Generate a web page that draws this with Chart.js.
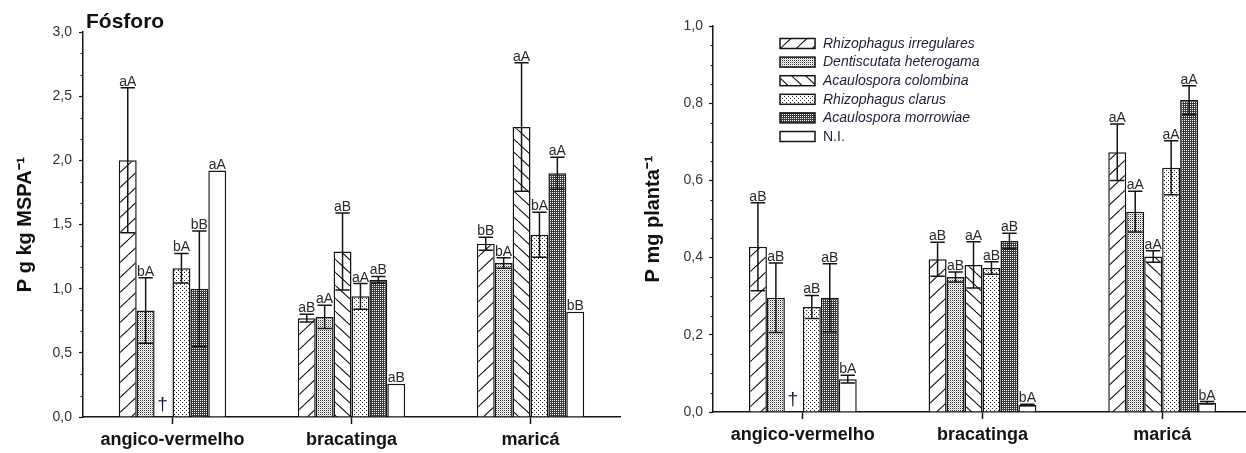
<!DOCTYPE html>
<html><head><meta charset="utf-8">
<script src="https://cdn.jsdelivr.net/npm/chart.js@4.4.1/dist/chart.umd.min.js"></script>
<style>
html,body{margin:0;padding:0;background:#fff;overflow:hidden;width:1246px;height:453px;}
#wrapL{position:absolute;left:0;top:0;width:640px;height:453px;}
#wrapR{position:absolute;left:640px;top:0;width:620px;height:453px;}
</style></head><body>
<div id="wrapL"><canvas id="cL" width="640" height="453"></canvas></div>
<div id="wrapR"><canvas id="cR" width="620" height="453"></canvas></div>
<script>
// ---------- DATA ----------
const categories = ['angico-vermelho', 'bracatinga', 'maricá'];
const seriesNames = ['Rhizophagus irregulares', 'Dentiscutata heterogama', 'Acaulospora colombina', 'Rhizophagus clarus', 'Acaulospora morrowiae', 'N.I.'];
const leftTitle = 'Fósforo';
const leftAxisTitle = 'P g kg MSPA⁻¹';
const rightAxisTitle = 'P mg planta⁻¹';
const leftTicks = [0, 0.5, 1.0, 1.5, 2.0, 2.5, 3.0];
const rightTicks = [0, 0.2, 0.4, 0.6, 0.8, 1.0];
const deadMark = '†';

// Left panel: P g kg MSPA-1
const leftRI = [2.00, 0.77, 1.35];
const leftDH = [0.83, 0.78, 1.20];
const leftAC = [null, 1.29, 2.26];
const leftRC = [1.16, 0.94, 1.42];
const leftAM = [1.00, 1.07, 1.90];
const leftNI = [1.92, 0.26, 0.82];
const leftErrRI = [0.565, 0.03, 0.05];
const leftErrDH = [0.255, 0.09, 0.04];
const leftErrAC = [null, 0.30, 0.50];
const leftErrRC = [0.115, 0.10, 0.175];
const leftErrAM = [0.45, 0.025, 0.125];
const leftErrNI = [0, 0, 0];
const leftLetRI = ['aA', 'aB', 'bB'];
const leftLetDH = ['bA', 'aA', 'bA'];
const leftLetAC = ['', 'aB', 'aA'];
const leftLetRC = ['bA', 'aA', 'bA'];
const leftLetAM = ['bB', 'aB', 'aA'];
const leftLetNI = ['aA', 'aB', 'bB'];

// Right panel: P mg planta-1
const rightRI = [0.428, 0.396, 0.673];
const rightDH = [0.296, 0.350, 0.519];
const rightAC = [null, 0.381, 0.403];
const rightRC = [0.272, 0.373, 0.633];
const rightAM = [0.296, 0.443, 0.808];
const rightNI = [0.085, 0.018, 0.024];
const rightErrRI = [0.114, 0.044, 0.073];
const rightErrDH = [0.09, 0.013, 0.053];
const rightErrAC = [null, 0.06, 0.015];
const rightErrRC = [0.03, 0.016, 0.07];
const rightErrAM = [0.088, 0.02, 0.037];
const rightErrNI = [0.01, 0.002, 0.003];
const rightLetRI = ['aB', 'aB', 'aA'];
const rightLetDH = ['aB', 'aB', 'aA'];
const rightLetAC = ['', 'aA', 'aA'];
const rightLetRC = ['aB', 'aB', 'aA'];
const rightLetAM = ['aB', 'aB', 'aA'];
const rightLetNI = ['bA', 'bA', 'bA'];

// ---------- STYLE ----------
const FONT = "'Liberation Sans', Arial, sans-serif";
const INK = '#151515';

function makePattern(kind) {
  const c = document.createElement('canvas');
  let ctx;
  if (kind === 'fwd' || kind === 'back') {
    const W = kind === 'fwd' ? 16 : 14, H = kind === 'fwd' ? 15 : 13;
    c.width = W; c.height = H; ctx = c.getContext('2d');
    ctx.fillStyle = '#fff'; ctx.fillRect(0, 0, W, H);
    ctx.strokeStyle = '#111'; ctx.lineWidth = 1.1;
    ctx.beginPath();
    for (const dx of [-W, 0, W]) {
      if (kind === 'fwd') { ctx.moveTo(dx, H); ctx.lineTo(dx + W, 0); }
      else { ctx.moveTo(dx, 0); ctx.lineTo(dx + W, H); }
    }
    ctx.stroke();
  } else if (kind === 'dh') {
    c.width = 2; c.height = 2; ctx = c.getContext('2d');
    ctx.fillStyle = '#fff'; ctx.fillRect(0, 0, 2, 2);
    ctx.fillStyle = '#333'; ctx.fillRect(0, 0, 1, 1);
    ctx.fillStyle = '#c4c4c4'; ctx.fillRect(1, 1, 1, 1);
  } else if (kind === 'rc') {
    c.width = 4; c.height = 4; ctx = c.getContext('2d');
    ctx.fillStyle = '#fff'; ctx.fillRect(0, 0, 4, 4);
    ctx.fillStyle = '#222'; ctx.fillRect(0, 0, 1, 1); ctx.fillRect(2, 2, 1, 1);
  } else if (kind === 'am') {
    c.width = 2; c.height = 2; ctx = c.getContext('2d');
    ctx.fillStyle = '#3a3a3a'; ctx.fillRect(0, 0, 2, 2);
    ctx.fillStyle = '#fff'; ctx.fillRect(0, 0, 1, 1);
  } else {
    c.width = 2; c.height = 2; ctx = c.getContext('2d');
    ctx.fillStyle = '#fff'; ctx.fillRect(0, 0, 2, 2);
  }
  return ctx.createPattern(c, 'repeat');
}
const fills = ['fwd', 'dh', 'back', 'rc', 'am', 'white'].map(makePattern);

function fmt(v) { return v.toFixed(1).replace('.', ','); }

function buildDatasets(vals, errs, lets) {
  return vals.map((v, i) => ({
    label: seriesNames[i],
    data: v,
    err: errs[i],
    letters: lets[i],
    backgroundColor: fills[i],
    borderColor: INK,
    borderWidth: 1.5,
    borderSkipped: 'bottom',
    categoryPercentage: 0.6,
    barPercentage: 1.0
  }));
}

// Error bars, letters, dagger, minor ticks
const annotPlugin = {
  id: 'annot',
  afterDatasetsDraw(chart, args, opts) {
    const ctx = chart.ctx;
    const y = chart.scales.y;
    ctx.save();
    chart.data.datasets.forEach((ds, di) => {
      const meta = chart.getDatasetMeta(di);
      meta.data.forEach((bar, i) => {
        const v = ds.data[i];
        const x = bar.x;
        const w = bar.width;
        if (v === null || v === undefined) {
          ctx.fillStyle = '#1c1c3a';
          ctx.font = '19px ' + FONT;
          ctx.textAlign = 'center';
          ctx.textBaseline = 'alphabetic';
          ctx.fillText(deadMark, x - 1, y.getPixelForValue(0) - 7);
          return;
        }
        const e = ds.err[i] || 0;
        let topPix = y.getPixelForValue(v);
        if (e > 0) {
          const yt = y.getPixelForValue(v + e);
          const yb = y.getPixelForValue(v - e);
          const cap = w * 0.4;
          ctx.strokeStyle = INK; ctx.lineWidth = 1.5;
          ctx.beginPath();
          ctx.moveTo(x, yt); ctx.lineTo(x, yb);
          ctx.moveTo(x - cap, yt); ctx.lineTo(x + cap, yt);
          ctx.moveTo(x - cap, yb); ctx.lineTo(x + cap, yb);
          ctx.stroke();
          topPix = yt;
        }
        const t = ds.letters[i];
        if (t) {
          ctx.fillStyle = '#2a2a2a';
          ctx.font = '14px ' + FONT;
          ctx.textAlign = 'center';
          ctx.textBaseline = 'alphabetic';
          ctx.fillText(t, x, topPix - 2);
        }
      });
    });
    ctx.restore();
  },
  afterDraw(chart, args, opts) {
    const ctx = chart.ctx;
    const y = chart.scales.y;
    const ax = y.right;
    ctx.save();
    ctx.strokeStyle = INK; ctx.lineWidth = 1.2;
    ctx.beginPath();
    for (let k = 0; k <= opts.nMinor; k++) {
      if (k % opts.every === 0) continue;
      const v = y.min + k * opts.minorStep;
      const py = Math.round(y.getPixelForValue(v)) + 0.5;
      ctx.moveTo(ax - 2.5, py); ctx.lineTo(ax, py);
    }
    ctx.stroke();
    if (opts.title) {
      ctx.fillStyle = '#111';
      ctx.font = 'bold 21px ' + FONT;
      ctx.textAlign = 'left';
      ctx.textBaseline = 'middle';
      ctx.fillText(opts.title, 86, 22);
    }
    if (opts.legend) {
      const lx = 140, ly0 = 43.5, dy = 18.6;
      chart.data.datasets.forEach((ds, di) => {
        const cy = ly0 + di * dy;
        ctx.fillStyle = ds.backgroundColor;
        ctx.fillRect(lx, cy - 5, 35, 10);
        ctx.strokeStyle = INK; ctx.lineWidth = 1.5;
        ctx.strokeRect(lx, cy - 5, 35, 10);
        ctx.fillStyle = '#1f1f3a';
        ctx.font = (ds.label === 'N.I.' ? '' : 'italic ') + '14px ' + FONT;
        ctx.textAlign = 'left';
        ctx.textBaseline = 'middle';
        ctx.fillText(ds.label, 183, cy + 0.5);
      });
    }
    ctx.restore();
  }
};

function makeChart(id, datasets, cfg) {
  return new Chart(document.getElementById(id), {
    type: 'bar',
    data: { labels: categories, datasets },
    plugins: [annotPlugin],
    options: {
      responsive: false,
      animation: false,
      layout: { padding: { top: cfg.padTop, right: cfg.padRight, left: 0, bottom: 0 } },
      plugins: {
        legend: { display: false },
        tooltip: { enabled: false },
        annot: cfg.annot
      },
      scales: {
        x: {
          offset: true,
          grid: { display: true, offset: false, drawOnChartArea: false, drawTicks: true, tickLength: 7, tickColor: INK, tickWidth: 1.5 },
          border: { display: true, color: INK, width: 1.5 },
          ticks: { color: '#141414', font: { family: FONT, size: 18, weight: 'bold' }, padding: 5, maxRotation: 0 },
          afterFit(s) { s.height = cfg.xHeight; }
        },
        y: {
          min: cfg.min, max: cfg.max,
          afterBuildTicks(s) { s.ticks = cfg.ticks.map(v => ({ value: v })); },
          grid: { display: true, drawOnChartArea: false, drawTicks: true, tickLength: 4, tickColor: INK, tickWidth: 1.2 },
          border: { display: true, color: INK, width: 1.5 },
          ticks: { color: '#333', font: { family: FONT, size: 14 }, padding: cfg.tickPad, callback: v => fmt(v) },
          title: { display: true, text: cfg.axisTitle, color: '#111', font: { family: FONT, size: 20, weight: 'bold' }, padding: { top: cfg.titlePad, bottom: 0 } },
          afterFit(s) { s.width = cfg.yWidth; }
        }
      }
    }
  });
}

makeChart('cL', buildDatasets(
  [leftRI, leftDH, leftAC, leftRC, leftAM, leftNI],
  [leftErrRI, leftErrDH, leftErrAC, leftErrRC, leftErrAM, leftErrNI],
  [leftLetRI, leftLetDH, leftLetAC, leftLetRC, leftLetAM, leftLetNI]), {
  padTop: 32, padRight: 20, xHeight: 36, yWidth: 83, min: 0, max: 3,
  ticks: leftTicks, tickPad: 7, titlePad: 13, axisTitle: leftAxisTitle,
  annot: { nMinor: 18, every: 3, minorStep: 0.5 / 3, title: leftTitle, legend: false }
});

makeChart('cR', buildDatasets(
  [rightRI, rightDH, rightAC, rightRC, rightAM, rightNI],
  [rightErrRI, rightErrDH, rightErrAC, rightErrRC, rightErrAM, rightErrNI],
  [rightLetRI, rightLetDH, rightLetAC, rightLetRC, rightLetAM, rightLetNI]), {
  padTop: 26, padRight: 8, xHeight: 41, yWidth: 73, min: 0, max: 1,
  ticks: rightTicks, tickPad: 6, titlePad: 1, axisTitle: rightAxisTitle,
  annot: { nMinor: 20, every: 4, minorStep: 0.05, title: null, legend: true }
});
</script>
</body></html>
